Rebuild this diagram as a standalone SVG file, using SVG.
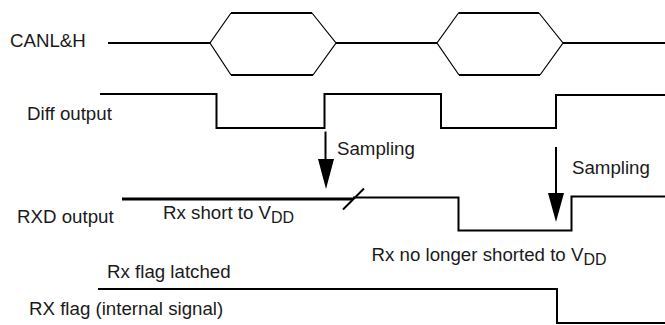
<svg xmlns="http://www.w3.org/2000/svg" width="665" height="325" viewBox="0 0 665 325">
<defs>
<style>
.t{font-family:"Liberation Sans",Arial,sans-serif;font-size:18.7px;fill:#1a1a1a}
.s{font-size:16px}
.w{fill:none;stroke:#000;stroke-width:2;stroke-linejoin:miter;stroke-linecap:butt}
.d{fill:none;stroke:#000;stroke-width:1.2}
.k{fill:none;stroke:#000;stroke-width:3}
.h{fill:#000;stroke:none}
</style>
</defs>
<rect width="665" height="325" fill="#fff"/>
<g id="canlh">
<text class="t" x="10" y="47">CANL&amp;H</text>
<path class="w" d="M108 43H210M336 43H437M563 43H665"/>
<path class="w" d="M231 13H312M231 75H313M458.5 13H539M459 75H540"/>
<path class="d" d="M231 13L210 43L231 75M312 13L336 43L313 75M458.5 13L437 43L459 75M539 13L563 43L540 75"/>
</g>
<g id="diff">
<text class="t" x="27" y="120">Diff output</text>
<polyline class="w" points="100,94 216.5,94 216.5,128 324.5,128 324.5,94 441,94 441,128 556,128 556,95 665,95"/>
</g>
<g id="sampling">
<path class="w" d="M325.5 131.5V160M556 147V194"/>
<polygon class="h" points="318,159 334,159 326,189"/>
<polygon class="h" points="548,193 564,193 556,222"/>
<text class="t" x="337" y="155">Sampling</text>
<text class="t" x="572" y="173.5">Sampling</text>
</g>
<g id="rxd">
<text class="t" x="17" y="223">RXD output</text>
<path class="k" d="M122 199H353"/>
<path class="w" d="M343 209.5L364 188.5"/>
<polyline class="w" points="353,197.5 458.5,197.5 458.5,230.5 571.5,230.5 571.5,196.5 665,196.5"/>
<text class="t" x="163" y="219">Rx short to V<tspan class="s" dy="4">DD</tspan></text>
<text class="t" x="371.5" y="260.5">Rx no longer shorted to V<tspan class="s" dy="4">DD</tspan></text>
</g>
<g id="rxflag">
<text class="t" x="107" y="278">Rx flag latched</text>
<polyline class="w" points="98,289 557,289 557,323 665,323"/>
<text class="t" x="29" y="315">RX flag (internal signal)</text>
</g>
</svg>
